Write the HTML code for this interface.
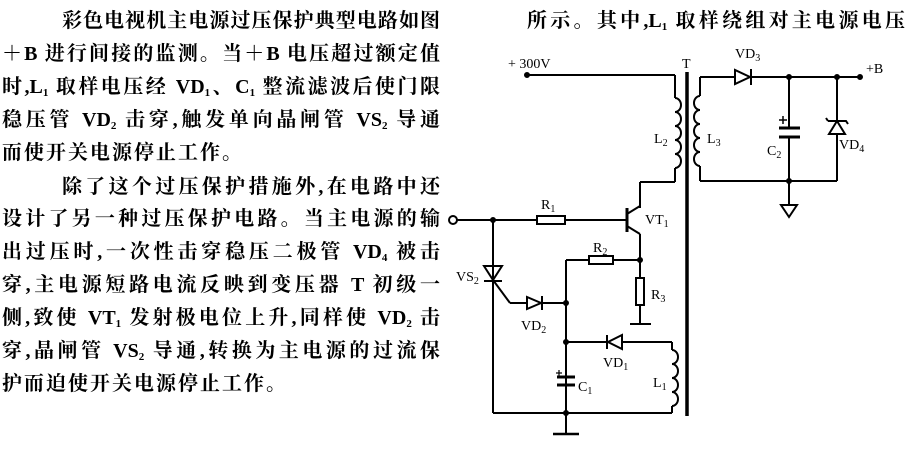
<!DOCTYPE html>
<html><head><meta charset="utf-8"><style>
html,body{margin:0;padding:0;background:#fff;}
body{width:912px;height:454px;position:relative;overflow:hidden;font-family:"Liberation Serif","Noto Serif CJK SC",serif;color:#000;}
.t{position:absolute;left:2px;width:438px;font-size:20px;line-height:24px;font-weight:bold;text-align:justify;text-align-last:justify;white-space:nowrap;}
.t sub{font-size:11px;vertical-align:-3px;line-height:0;}
.ind{padding-left:60px;width:378px;}
svg{position:absolute;left:0;top:0;}
svg text{font-family:"Liberation Serif",serif;fill:#000;}
</style></head><body>
<div class="t ind" style="top:9px">彩色电视机主电源过压保护典型电路如图</div>
<div class="t" style="top:42px">＋B 进行间接的监测。当＋B 电压超过额定值</div>
<div class="t" style="top:75px">时,L<sub>1</sub> 取样电压经 VD<sub>1</sub>、C<sub>1</sub> 整流滤波后使门限</div>
<div class="t" style="top:108px">稳压管 VD<sub>2</sub> 击穿,触发单向晶闸管 VS<sub>2</sub> 导通</div>
<div class="t" style="top:141px;text-align-last:left;letter-spacing:2px">而使开关电源停止工作。</div>
<div class="t ind" style="top:175px">除了这个过压保护措施外,在电路中还</div>
<div class="t" style="top:207px">设计了另一种过压保护电路。当主电源的输</div>
<div class="t" style="top:240px">出过压时,一次性击穿稳压二极管 VD<sub>4</sub> 被击</div>
<div class="t" style="top:273px">穿,主电源短路电流反映到变压器 T 初级一</div>
<div class="t" style="top:306px">侧,致使 VT<sub>1</sub> 发射极电位上升,同样使 VD<sub>2</sub> 击</div>
<div class="t" style="top:339px">穿,晶闸管 VS<sub>2</sub> 导通,转换为主电源的过流保</div>
<div class="t" style="top:372px;text-align-last:left;letter-spacing:2px">护而迫使开关电源停止工作。</div>
<div class="t" style="top:9px;left:527px;width:378px">所示。其中,L<sub>1</sub> 取样绕组对主电源电压</div>

<svg width="912" height="454" viewBox="0 0 912 454">
<g stroke="#000" stroke-width="2" fill="none">
<line x1="525" y1="75" x2="675" y2="75"/>
<circle cx="527" cy="75" r="2" fill="#000"/>
<line x1="675" y1="75" x2="675" y2="98"/>
<path d="M675 98 a6 7 0 0 1 0 14 a6 7 0 0 1 0 14 a6 7 0 0 1 0 14 a6 7 0 0 1 0 14 a6 7 0 0 1 0 14"/>
<line x1="675" y1="168" x2="675" y2="182"/>
<line x1="675" y1="182" x2="640" y2="182"/>
<line x1="640" y1="182" x2="640" y2="208"/>
<line x1="687" y1="72" x2="687" y2="416" stroke-width="3.5"/>
<line x1="700" y1="77" x2="700" y2="96"/>
<path d="M700 96 a6 7 0 0 0 0 14 a6 7 0 0 0 0 14 a6 7 0 0 0 0 14 a6 7 0 0 0 0 14 a6 7 0 0 0 0 14"/>
<line x1="700" y1="166" x2="700" y2="181"/>
<line x1="700" y1="77" x2="735" y2="77"/>
<line x1="752" y1="77" x2="862" y2="77"/>
<line x1="700" y1="181" x2="837" y2="181"/>
<line x1="789" y1="77" x2="789" y2="128"/>
<line x1="789" y1="137" x2="789" y2="205"/>
<line x1="783" y1="116" x2="783" y2="124" stroke-width="1.5"/>
<line x1="779" y1="120" x2="787" y2="120" stroke-width="1.5"/>
<line x1="837" y1="77" x2="837" y2="120"/>
<line x1="837" y1="134" x2="837" y2="181"/>
<line x1="453" y1="220" x2="537" y2="220"/>
<line x1="565" y1="220" x2="627" y2="220"/>
<line x1="627" y1="208" x2="627" y2="232" stroke-width="3"/>
<line x1="627" y1="214" x2="640" y2="206"/>
<line x1="627" y1="226" x2="640" y2="234"/>
<line x1="640" y1="234" x2="640" y2="278"/>
<line x1="566" y1="260" x2="589" y2="260"/>
<line x1="613" y1="260" x2="640" y2="260"/>
<line x1="566" y1="260" x2="566" y2="413"/>
<line x1="640" y1="305" x2="640" y2="323"/>
<line x1="630" y1="324" x2="651" y2="324"/>
<line x1="493" y1="220" x2="493" y2="413"/>
<line x1="493" y1="280" x2="510" y2="303"/>
<line x1="510" y1="303" x2="527" y2="303"/>
<line x1="543" y1="303" x2="566" y2="303"/>
<line x1="566" y1="342" x2="606" y2="342"/>
<line x1="622" y1="342" x2="672" y2="342"/>
<line x1="672" y1="342" x2="672" y2="350"/>
<path d="M672 350 a6 7 0 0 1 0 14 a6 7 0 0 1 0 14 a6 7 0 0 1 0 14 a6 7 0 0 1 0 14"/>
<line x1="672" y1="406" x2="672" y2="413"/>
<line x1="493" y1="413" x2="672" y2="413"/>
<line x1="566" y1="413" x2="566" y2="434"/>
<line x1="553" y1="434" x2="579" y2="434" stroke-width="2.5"/>
<line x1="557" y1="377" x2="575" y2="377" stroke-width="3"/>
<line x1="557" y1="385" x2="575" y2="385" stroke-width="3"/>
<line x1="559" y1="370" x2="559" y2="376" stroke-width="1.2"/>
<line x1="556" y1="373" x2="562" y2="373" stroke-width="1.2"/>
</g>
<g fill="#fff" stroke="#000" stroke-width="2">
<rect x="537" y="216" width="28" height="8"/>
<rect x="589" y="256" width="24" height="8"/>
<rect x="636" y="278" width="8" height="27"/>
<circle cx="453" cy="220" r="4"/>
</g>
<g fill="#000" stroke="#000" stroke-width="2">
<circle cx="789" cy="77" r="2"/><circle cx="837" cy="77" r="2"/><circle cx="789" cy="181" r="2"/>
<circle cx="493" cy="220" r="2"/><circle cx="640" cy="260" r="2"/><circle cx="566" cy="303" r="2"/>
<circle cx="566" cy="342" r="2"/><circle cx="566" cy="413" r="2"/>
<circle cx="860" cy="77" r="2"/>
<line x1="779" y1="128" x2="800" y2="128" stroke-width="3"/>
<line x1="779" y1="137" x2="800" y2="137" stroke-width="3"/>
</g>
<g fill="none" stroke="#000" stroke-width="2">
<polygon points="735,70 735,84 750,77"/><line x1="751" y1="69" x2="751" y2="85"/>
<polygon points="829,134 845,134 837,121"/><path d="M828 121 H846 l2 3"/><path d="M828 121 l-2 -3"/>
<polygon points="781,205 797,205 789,217"/>
<polygon points="484,266 502,266 493,280"/><line x1="484" y1="281" x2="502" y2="281"/>
<polygon points="527,297 527,309 541,303"/><line x1="542" y1="296" x2="542" y2="310"/>
<polygon points="622,335 622,349 608,342"/><line x1="607" y1="335" x2="607" y2="349"/>
</g>
<g font-size="14">
<text x="508" y="68">+ 300V</text>
<text x="682" y="68">T</text>
<text x="735" y="58">VD<tspan font-size="10" dy="3">3</tspan></text>
<text x="866" y="73">+B</text>
<text x="654" y="143">L<tspan font-size="10" dy="3">2</tspan></text>
<text x="707" y="143">L<tspan font-size="10" dy="3">3</tspan></text>
<text x="767" y="155">C<tspan font-size="10" dy="3">2</tspan></text>
<text x="839" y="149">VD<tspan font-size="10" dy="3">4</tspan></text>
<text x="541" y="209">R<tspan font-size="10" dy="3">1</tspan></text>
<text x="645" y="224">VT<tspan font-size="10" dy="3">1</tspan></text>
<text x="593" y="252">R<tspan font-size="10" dy="3">2</tspan></text>
<text x="651" y="299">R<tspan font-size="10" dy="3">3</tspan></text>
<text x="456" y="281">VS<tspan font-size="10" dy="3">2</tspan></text>
<text x="521" y="330">VD<tspan font-size="10" dy="3">2</tspan></text>
<text x="603" y="367">VD<tspan font-size="10" dy="3">1</tspan></text>
<text x="653" y="387">L<tspan font-size="10" dy="3">1</tspan></text>
<text x="578" y="391">C<tspan font-size="10" dy="3">1</tspan></text>
</g>
</svg>
</body></html>
